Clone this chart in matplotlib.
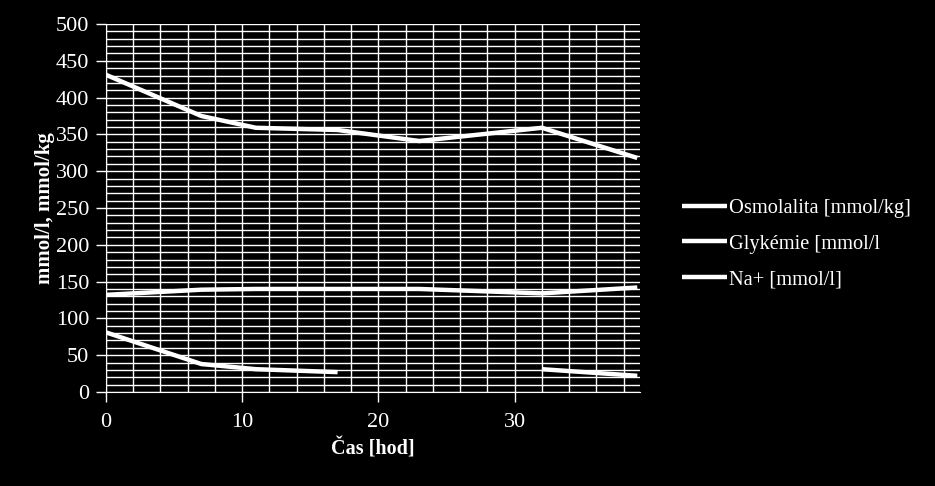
import numpy as np
import matplotlib
matplotlib.use("Agg")
import matplotlib.pyplot as plt
from matplotlib.ticker import MultipleLocator

time_h = [0, 7, 11, 17, 23, 32, 39]
osmolalita = [431, 375, 359, 356, 341, 359, 318]
glykemie = [81, 38, 31, 27, np.nan, 31, 22]
natrium = [132, 139, 140, 140, 140, 134, 142]
labels = ["Osmolalita [mmol/kg]", "Glykémie [mmol/l", "Na+ [mmol/l]"]

plt.rcParams['font.family'] = ['Liberation Serif', 'DejaVu Serif']

fig = plt.figure(figsize=(9.35, 4.86), dpi=100, facecolor='black')
ax = fig.add_axes([106/935, 1-392/486, (640-106)/935, (392-24)/486], facecolor='black')

for vals, lab in zip([osmolalita, glykemie, natrium], labels):
    ax.plot(time_h, vals, color='white', lw=3.2, label=lab, solid_capstyle='butt')

ax.set_xlim(0, 39.2)
ax.set_ylim(0, 500)
ax.xaxis.set_major_locator(MultipleLocator(10))
ax.xaxis.set_minor_locator(MultipleLocator(2))
ax.yaxis.set_major_locator(MultipleLocator(50))
ax.yaxis.set_minor_locator(MultipleLocator(10))
ax.grid(True, which='both', color='white', lw=1.0)
ax.set_axisbelow(True)
ax.tick_params(which='major', colors='white', labelsize=16, length=7, width=1, direction='out', pad=5)
ax.tick_params(axis='x', which='major', pad=8)
ax.tick_params(which='minor', length=0)
for s in ['top', 'right']:
    ax.spines[s].set_visible(False)
for s in ['left', 'bottom']:
    ax.spines[s].set_color('white')

ax.set_xlabel("Čas [hod]", color='white', fontsize=14.5, fontweight='bold', labelpad=5)
ax.set_ylabel("mmol/l, mmol/kg", color='white', fontsize=15, fontweight='bold', labelpad=1)

leg = fig.legend(loc='center left', bbox_to_anchor=(664/935, 1-244/486), frameon=False,
                 fontsize=14.7, handlelength=2.2, handletextpad=0.1, labelspacing=0.8)
for t in leg.get_texts():
    t.set_color('white')

fig.savefig("out.png", dpi=100, facecolor='black')
